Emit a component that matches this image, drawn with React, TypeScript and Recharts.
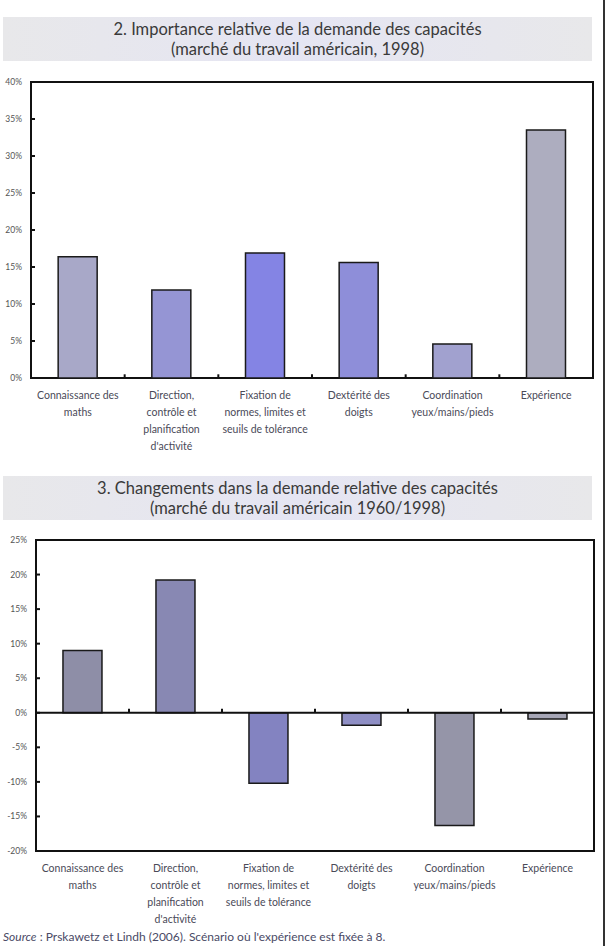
import React from 'react';
import { BarChart, Bar, XAxis, YAxis, Cell, ReferenceArea, ReferenceLine } from 'recharts';

// Skill categories, one entry per line of the axis label
const categories: string[][] = [
  ['Connaissance des', 'maths'],
  ['Direction,', 'contrôle et', 'planification', "d'activité"],
  ['Fixation de', 'normes, limites et', 'seuils de tolérance'],
  ['Dextérité des', 'doigts'],
  ['Coordination', 'yeux/mains/pieds'],
  ['Expérience'],
];

// 1998 relative importance (%)
const importance1998 = [16.4, 11.9, 16.9, 15.6, 4.6, 33.5];
// change 1960/1998 (%)
const change1960to1998 = [9.0, 19.2, -10.2, -1.8, -16.3, -0.9];

const ticksImportance = [0, 5, 10, 15, 20, 25, 30, 35, 40];
const ticksChange = [-20, -15, -10, -5, 0, 5, 10, 15, 20, 25];

// boundaries between categories (in index units), where the small x tick marks sit
const boundaries = [0.5, 1.5, 2.5, 3.5, 4.5];

const colorsImportance = ['#a8a8c8', '#9595d4', '#8484e4', '#8e8ed9', '#a1a1cf', '#adadbf'];
const colorsChange = ['#8e8ea7', '#8888b3', '#8383c1', '#8f8fc5', '#9595a8', '#a6a6b6'];

const FONT = 'Lato, "Open Sans", sans-serif';
const LABEL_COLOR = '#4a4a58';

const importanceData = categories.map((lines, i) => ({ idx: i, lines, value: importance1998[i] }));
const changeData = categories.map((lines, i) => ({ idx: i, lines, value: change1960to1998[i] }));

const Y_TICK_SIZE = 4;
const Y_TICK_MARGIN = 5;

function YTick(props: any) {
  const { x, y, payload } = props;
  const axisX = x + Y_TICK_SIZE + Y_TICK_MARGIN;
  return (
    <g>
      <line x1={axisX} x2={axisX + 4} y1={y} y2={y} stroke="#111" strokeWidth={2} />
      <text x={x} y={y + 3} textAnchor="end" fontSize={8.5} fill="#555" fontFamily={FONT}>
        {payload.value}%
      </text>
    </g>
  );
}

function XTick(props: any) {
  const { x, y, index } = props;
  const lines = categories[index] ?? [];
  return (
    <text x={x} y={y + 21} textAnchor="middle" fontSize={10.5} fill={LABEL_COLOR} fontFamily={FONT}>
      {lines.map((l, i) => (
        <tspan key={i} x={x} dy={i === 0 ? 0 : 17}>{l}</tspan>
      ))}
    </text>
  );
}

function TitleBand({ top, lines }: { top: number; lines: string[] }) {
  return (
    <div
      style={{
        position: 'absolute', left: 3, top, width: 589, height: 44,
        background: 'linear-gradient(90deg, #e8e8ea 0%, #e5e5f3 50%, #e8e8ea 100%)',
        fontFamily: FONT, fontSize: 16.5, color: '#3a3a3a', textAlign: 'center', lineHeight: '20px',
        paddingTop: 2, boxSizing: 'border-box',
      }}
    >
      {lines.map((l, i) => <div key={i}>{l}</div>)}
    </div>
  );
}

export default function App() {
  return (
    <div style={{ position: 'absolute', left: 0, top: 0, width: 607, height: 946, background: '#fff', overflow: 'hidden' }}>
      <TitleBand top={17} lines={['2. Importance relative de la demande des capacités', '(marché du travail américain, 1998)']} />

      <div style={{ position: 'absolute', left: 0, top: 70 }}>
        <BarChart
          width={607}
          height={392}
          data={importanceData}
          margin={{ top: 12, right: 14, bottom: 0, left: 0 }}
          barCategoryGap="29%"
        >
          <XAxis xAxisId="cat" dataKey="idx" axisLine={false} tickLine={false} tickSize={0} tickMargin={0} height={84} interval={0} tick={<XTick />} />
          <XAxis xAxisId="num" dataKey="idx" type="number" domain={[-0.5, 5.5]} allowDataOverflow hide />
          <YAxis
            domain={[0, 40]}
            ticks={ticksImportance}
            width={31}
            axisLine={false}
            tickLine={false}
            tickSize={Y_TICK_SIZE}
            tickMargin={Y_TICK_MARGIN}
            tick={<YTick />}
            interval={0}
          />
          <ReferenceArea xAxisId="cat" y1={0} y2={40} fill="none" stroke="#111" strokeWidth={2} ifOverflow="visible" />
          {boundaries.map(b => (
            <ReferenceLine key={b} xAxisId="num" segment={[{ x: b, y: 0 }, { x: b, y: 0.5 }]} stroke="#111" strokeWidth={2} />
          ))}
          <Bar xAxisId="cat" dataKey="value" stroke="#1a1a1a" strokeWidth={1.5} isAnimationActive={false}>
            {importanceData.map((d, i) => <Cell key={i} fill={colorsImportance[i]} />)}
          </Bar>
        </BarChart>
      </div>

      <TitleBand top={476} lines={['3. Changements dans la demande relative des capacités', '(marché du travail américain 1960/1998)']} />

      <div style={{ position: 'absolute', left: 0, top: 528 }}>
        <BarChart
          width={607}
          height={400}
          data={changeData}
          margin={{ top: 12, right: 13, bottom: 0, left: 0 }}
          barCategoryGap="29%"
        >
          <XAxis xAxisId="cat" dataKey="idx" axisLine={false} tickLine={false} tickSize={0} tickMargin={0} height={77} interval={0} tick={<XTick />} />
          <XAxis xAxisId="num" dataKey="idx" type="number" domain={[-0.5, 5.5]} allowDataOverflow hide />
          <YAxis
            domain={[-20, 25]}
            ticks={ticksChange}
            width={36}
            axisLine={false}
            tickLine={false}
            tickSize={Y_TICK_SIZE}
            tickMargin={Y_TICK_MARGIN}
            tick={<YTick />}
            interval={0}
          />
          <ReferenceArea xAxisId="cat" y1={-20} y2={25} fill="none" stroke="#111" strokeWidth={2} ifOverflow="visible" />
          <Bar xAxisId="cat" dataKey="value" stroke="#1a1a1a" strokeWidth={1.5} isAnimationActive={false}>
            {changeData.map((d, i) => <Cell key={i} fill={colorsChange[i]} />)}
          </Bar>
          <ReferenceLine xAxisId="cat" y={0} stroke="#111" strokeWidth={2} />
          {boundaries.map(b => (
            <ReferenceLine key={b} xAxisId="num" segment={[{ x: b, y: 0 }, { x: b, y: 0.6 }]} stroke="#111" strokeWidth={2} />
          ))}
        </BarChart>
      </div>

      <div
        style={{
          position: 'absolute', left: 3, top: 929, fontFamily: FONT, fontSize: 12, color: '#4a4a66', whiteSpace: 'nowrap',
        }}
      >
        <i>Source</i> : Prskawetz et Lindh (2006). Scénario où l'expérience est fixée à 8.
      </div>

      <div style={{ position: 'absolute', left: 603, top: 0, width: 2, height: 946, background: '#333' }} />
    </div>
  );
}
